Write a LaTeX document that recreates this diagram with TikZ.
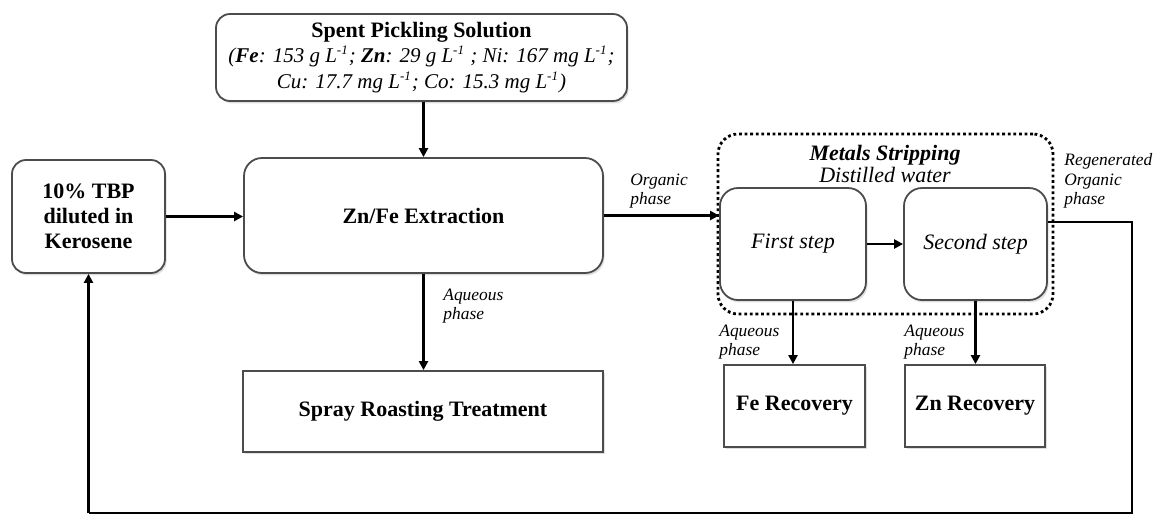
\documentclass[tikz,border=0pt]{standalone}
\usepackage{fontspec}
\setmainfont{Liberation Serif}
\usetikzlibrary{arrows.meta,shadows}
\newcommand{\perL}{L\textsuperscript{\fontsize{6.5}{6.5}\selectfont -1}}
\begin{document}
\begin{tikzpicture}[x=0.5pt,y=-0.5pt,
  box/.style={draw=black!70, line width=0.9pt, fill=white, align=center, inner sep=0pt,
    font=\fontsize{11}{12.6}\selectfont\bfseries,
    drop shadow={shadow xshift=0.8pt, shadow yshift=-1.2pt, opacity=0.25}},
  rbox/.style={box, rounded corners=7pt},
  stepbox/.style={rbox, rounded corners=9pt, font=\fontsize{11}{12.6}\selectfont\itshape},
  arr/.style={line width=1.4pt, -{Triangle[length=4.5pt,width=4.5pt]}},
  plain/.style={line width=1.4pt},
  lbl/.style={font=\fontsize{8.7}{9.6}\selectfont\itshape, align=left, anchor=west, inner sep=0pt},
  dotframe/.style={draw=black, line width=1.4pt, dash pattern=on 1.4pt off 1.4pt, rounded corners=10pt, inner sep=0pt},
]
\useasboundingbox (0,0) rectangle (1157,516);

% nodes
\node[rbox, minimum width=205.5pt, minimum height=43.5pt] (spent) at (421.5,57.5)
  {Spent Pickling Solution\\
   \mdseries\itshape\fontsize{10.5}{12.6}\selectfont (\textbf{Fe}: 153 g \perL; \textbf{Zn}: 29 g \perL\ ; Ni: 167 mg \perL;\\
   \mdseries\itshape\fontsize{10.5}{12.6}\selectfont Cu: 17.7 mg \perL; Co: 15.3 mg \perL)};
\node[rbox, minimum width=76.5pt, minimum height=56.5pt] (tbp) at (88.5,216.5)
  {10\% TBP\\diluted in\\Kerosene};
\node[rbox, rounded corners=9pt, minimum width=179.5pt, minimum height=57.5pt] (zn) at (423.5,215.5)
  {Zn/Fe Extraction};
\node[box, minimum width=180pt, minimum height=40.5pt] (spray) at (423,411.5)
  {Spray Roasting Treatment};

\node[dotframe, minimum width=167.5pt, minimum height=90pt] (strip) at (885.5,224) {};
\node[align=center, inner sep=0pt, font=\fontsize{11}{11.2}\selectfont] (striptitle) at (885,164)
  {\bfseries\itshape Metals Stripping\\ \itshape Distilled water};

\node[stepbox, minimum width=73pt, minimum height=56pt] (first) at (793,244) {First step};
\node[stepbox, minimum width=71.5pt, minimum height=56pt] (second) at (975.5,244) {Second step};
\node[box, minimum width=70.5pt, minimum height=41pt] (fe) at (794.5,406) {Fe Recovery};
\node[box, minimum width=70pt, minimum height=41pt] (znr) at (975,406) {Zn Recovery};

% labels
\node[lbl] (lorg) at (630,191) {Organic\\phase};
\node[lbl] (laq1) at (443,306) {Aqueous\\phase};
\node[lbl] (laq2) at (719,342) {Aqueous\\phase};
\node[lbl] (laq3) at (904,342) {Aqueous\\phase};
\node[lbl] (lreg) at (1064,181) {Regenerated\\Organic\\phase};

% connectors
\draw[arr] (spent.south -| zn.north) -- (zn.north);
\draw[arr] (tbp.east) -- (zn.west |- tbp.east);
\draw[arr] (zn.east) -- (first.west |- zn.east);
\draw[arr] (first.east) -- (second.west);
\draw[arr] (first.south) -- (first.south |- fe.north);
\draw[arr] (second.south) -- (second.south |- znr.north);
\draw[arr] (zn.south) -- (zn.south |- spray.north);

\coordinate (r1) at ([yshift=11pt]second.east);
\coordinate (rb) at (1132,513);
\coordinate (lb) at (tbp.south |- rb);
\draw[plain, line join=miter] (r1) -| (rb) -- (lb);
\draw[arr] (lb) -- (tbp.south);
\end{tikzpicture}
\end{document}
